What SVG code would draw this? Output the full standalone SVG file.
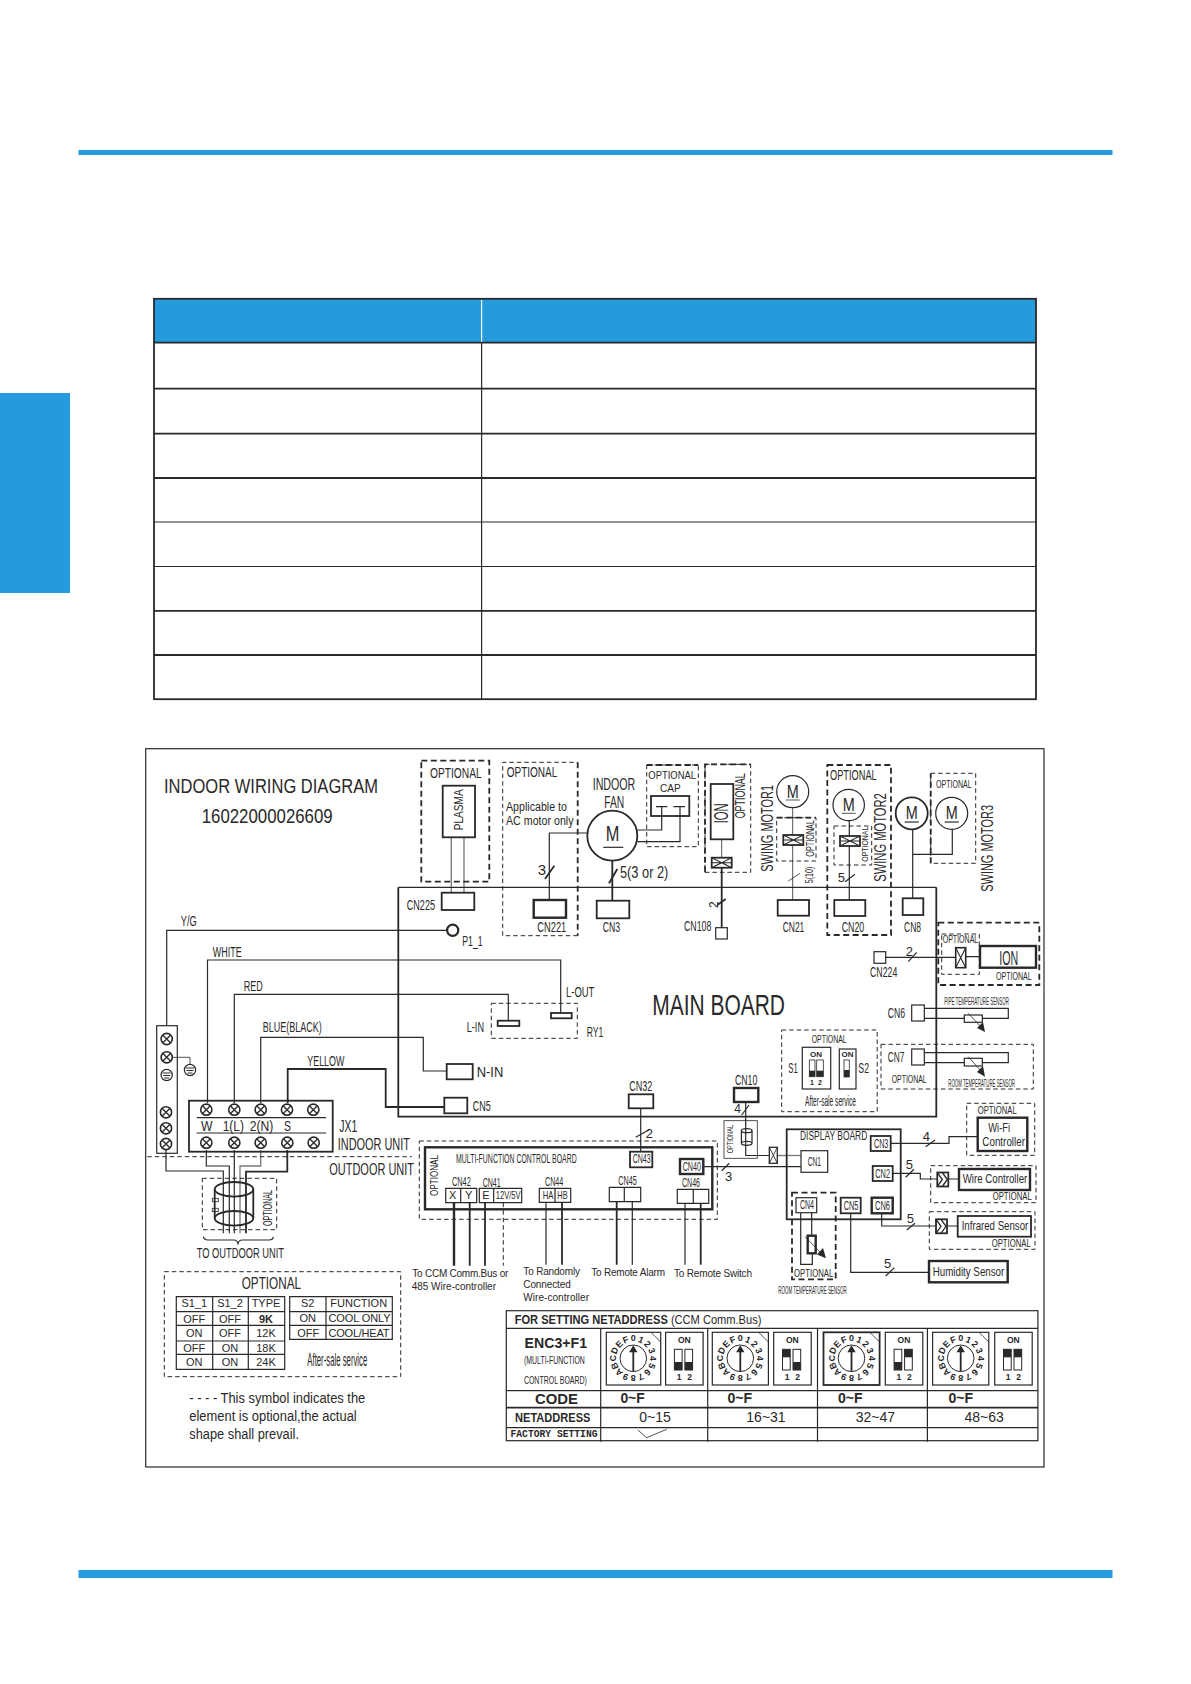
<svg xmlns="http://www.w3.org/2000/svg" width="1191" height="1684" viewBox="0 0 1191 1684">
<style>
text{font-family:"Liberation Sans",Arial,sans-serif;fill:#2a2829}
.s9{font-size:9px}.s10{font-size:10px}.s11{font-size:11px}.s12{font-size:12px}.s13{font-size:13px}.s14{font-size:14px}.s15{font-size:15px}.s16{font-size:16px}.s17{font-size:17px}.s21{font-size:21px}
.b{font-weight:bold}.m{text-anchor:middle}
.n,.w1,.w2,.w3,.d,.dt,.g{fill:none;stroke:#2a2829}
.n{stroke-width:.8}.w1{stroke-width:1.2}.w2{stroke-width:1.8}.w3{stroke-width:2.4}
.g{stroke:#777;stroke-width:1.3}
.d{stroke-width:1.8;stroke-dasharray:6 3.5}.dt{stroke-width:1;stroke-dasharray:4.5 3}
.bl{fill:#259bdd}.k{fill:#2a2829}
</style>
<defs>
<g id="screw"><circle r="5.6" fill="#fff" stroke="#2a2829" stroke-width="1.6"/><path d="M-4-4L4 4M-4 4L4-4" stroke="#2a2829" stroke-width="1.3"/></g>
<g id="earth"><circle r="5.6" fill="#fff" stroke="#2a2829" stroke-width="1.2"/><path d="M-4-2H4M-3.5 0.5H3.5M-2.5 3H2.5" stroke="#2a2829" stroke-width="1"/></g>
<g id="conH"><rect x="0" y="0" width="20" height="10" fill="#fff" stroke="#2a2829" stroke-width="1.8"/><path d="M0 0L10 5L20 0M0 10L10 5L20 10M0 5H20" fill="none" stroke="#2a2829" stroke-width="1.1"/></g>
<g id="conV"><rect x="0" y="0" width="10" height="20" fill="#fff" stroke="#2a2829" stroke-width="1.6"/><path d="M0 0L5 10L0 20M10 0L5 10L10 20" fill="none" stroke="#2a2829" stroke-width="1.1"/></g>
<g id="conD"><rect x="0" y="0" width="11" height="14" fill="#fff" stroke="#2a2829" stroke-width="1.8"/><path d="M0 0L5 7L0 14M5 0L10 7L5 14" fill="none" stroke="#2a2829" stroke-width="1.3"/></g>
<g id="dial">
<circle r="13.3" fill="none" stroke="#2a2829" stroke-width="1"/>
<path d="M-.9 13V-6H-4.2L0-13L4.2-6H.9V13Z" class="k"/>
<g class="b" font-size="9" text-anchor="middle">
<text transform="rotate(0) translate(0,-17)">0</text><text transform="rotate(22.5) translate(0,-17)">1</text><text transform="rotate(45) translate(0,-17)">2</text><text transform="rotate(67.5) translate(0,-17)">3</text><text transform="rotate(90) translate(0,-17)">4</text><text transform="rotate(112.5) translate(0,-17)">5</text><text transform="rotate(135) translate(0,-17)">6</text><text transform="rotate(157.5) translate(0,-17)">7</text><text transform="rotate(180) translate(0,-17)">8</text><text transform="rotate(202.5) translate(0,-17)">9</text><text transform="rotate(225) translate(0,-17)">A</text><text transform="rotate(247.5) translate(0,-17)">B</text><text transform="rotate(270) translate(0,-17)">C</text><text transform="rotate(292.5) translate(0,-17)">D</text><text transform="rotate(315) translate(0,-17)">E</text><text transform="rotate(337.5) translate(0,-17)">F</text>
</g>
</g>
<g id="sw"><rect x="0" y="0" width="37.5" height="52.7" fill="none" stroke="#2a2829" stroke-width="1.2"/>
<text x="18.7" y="11" class="b m" font-size="8.5">ON</text><text x="13.5" y="47.7" class="b m" font-size="8.5">1</text><text x="24" y="47.7" class="b m" font-size="8.5">2</text>
<rect x="8.8" y="17" width="7.7" height="20.7" fill="none" stroke="#2a2829" stroke-width="1"/><rect x="19.3" y="17" width="7.7" height="20.7" fill="none" stroke="#2a2829" stroke-width="1"/></g>
</defs>

<g id="page">
<rect x="78.5" y="150" width="1034" height="5" class="bl"/>
<rect x="78.5" y="1570" width="1034" height="8" class="bl"/>
<rect x="0" y="393" width="70" height="200" class="bl"/>
</g>
<g id="top-table">
<rect x="154" y="299" width="882" height="44" class="bl"/>
<path d="M481.6 300V342" stroke="#fff" stroke-width="1.2"/>
<path d="M154 342.7H1036M154 388.6H1036M154 433.7H1036M154 478H1036M154 655H1036M154 610.8H1036" class="w2"/>
<path d="M154 522H1036M154 566.5H1036M481.6 343V699" class="w1"/>
<rect x="154" y="298.8" width="882" height="400.4" class="w2"/>
</g>

<g id="frame"><rect x="145.7" y="748.7" width="898.3" height="718.3" class="w1"/></g>

<g id="connectors">
<path d="M446 930.3H166.7V1025.7" class="w1"/>
<path d="M207.5 1103V960H560.7V1013" class="w1"/>
<path d="M234.3 1103V994.3H508.3V1020.7" class="w1"/>
<path d="M260.7 1103V1037.3H423.3V1071H446.7" class="w1"/>
<path d="M287.7 1103V1069H385.7V1107H444.3" class="w2"/>
<path d="M171.7 1057.3H190V1064" class="n"/>
<path d="M166 1150V1171H223.3V1233.3" class="w1"/>
<path d="M206.3 1150V1166H229.3V1233.3" class="w1"/>
<path d="M234.3 1150V1233.3" class="w1"/>
<path d="M260.7 1150V1166H240V1233.3" class="g"/>
<path d="M287.3 1150V1171.7H246V1233.3" class="w2"/>
<path d="M451.3 837.3V892.7" class="g"/><path d="M464 837.3V892.7" class="g"/>
<path d="M588.3 833H549.3V900" class="w1"/><path d="M545 879L554.3 865.7" class="w2"/>
<path d="M612.3 860.7V900.7" class="w2"/><path d="M609 883.3L617.3 869" class="w2"/>
<path d="M637.3 830H661.7V806.7M656 806.7H667.3M637.3 841.7H680V806.7M673.3 806.7H685" class="w1"/>
<path d="M721.7 839.3V857.7" class="n"/><path d="M721.7 867.7V927.7" class="w2"/><path d="M717.3 905L725.7 899" class="w2"/>
<path d="M792.7 807.7V900" class="n"/><path d="M788.3 881L800 873.3" class="n"/>
<path d="M849.3 820.7V900" class="w1"/><path d="M845 881.7L855 874.3" class="w1"/>
<path d="M912.7 829.3V898.3M912.7 854.3H952.3V829.3" class="w1"/>
<path d="M885.7 957.3H955.7M965.7 956.7H980" class="w1"/><path d="M908.3 961.7L916.7 952.3" class="w1"/>
<path d="M640.7 1108.3V1151.7" class="w1"/><path d="M635.7 1137.3L650 1129.3" class="w1"/>
<path d="M745.7 1102V1155.5H769.3" class="w1"/><path d="M741.7 1115L749 1105" class="w1"/>
<path d="M777.3 1155.5H801" class="g"/>
<path d="M703.3 1166.7H801" class="w1"/><path d="M721.7 1170.7L729.3 1163.3" class="w1"/>
<path d="M454 1202.7V1265.7" class="w3"/><path d="M469.7 1202.7V1265.7" class="w2"/><path d="M485 1202.7V1265.7" class="w2"/><path d="M503.3 1202.7V1265.7" class="dt"/>
<path d="M546 1202.3V1264.7" class="w1"/><path d="M562 1202.3V1264.7" class="w2"/>
<path d="M616.7 1201.7V1264.7" class="w2"/><path d="M632.3 1201.7V1264.7" class="w1"/>
<path d="M685 1203.3V1264.7" class="w1"/><path d="M700.7 1203.3V1264.7" class="w2"/>
<path d="M890.7 1143.3H949V1136.7H977.7" class="w1"/><path d="M925.7 1146.7L935 1140" class="w1"/>
<path d="M892.7 1173.3H920.3V1179H937.3M948.3 1179H959" class="w1"/><path d="M905.7 1177.3L914 1169.3" class="w1"/>
<path d="M881.7 1213.3V1226H936M947.3 1226H957.7" class="w1"/><path d="M906.7 1230L915 1223.3" class="w1"/>
<path d="M850.7 1213.3V1272.3H929" class="w1"/><path d="M885.7 1276L894.3 1267.7" class="w1"/>
</g>

<g id="title"><text x="164" y="793.3" class="s21" textLength="214" lengthAdjust="spacingAndGlyphs">INDOOR WIRING DIAGRAM</text>
<text x="201.7" y="823.3" class="s21" textLength="131" lengthAdjust="spacingAndGlyphs">16022000026609</text></g>

<g id="plasma">
<rect x="421.3" y="760.7" width="68" height="121" class="d"/>
<text x="430" y="777.7" class="s14" textLength="51.7" lengthAdjust="spacingAndGlyphs">OPTIONAL</text>
<rect x="442.7" y="785.7" width="32.3" height="51.6" class="w2"/>
<text transform="translate(463.3,830.3) rotate(-90)" class="s13" textLength="41" lengthAdjust="spacingAndGlyphs">PLASMA</text>
<rect x="441.7" y="892.7" width="32.6" height="17.3" class="w2"/>
<text x="406.7" y="910" class="s15" textLength="28.3" lengthAdjust="spacingAndGlyphs">CN225</text>
</g>

<g id="main-board">
<path d="M398.3 887.3H936.3" class="w1"/><path d="M398.3 887.3V1116.7H936.3V887.3" class="w2"/>
<text x="652.3" y="1015" font-size="30" textLength="132.7" lengthAdjust="spacingAndGlyphs">MAIN BOARD</text>
</g>
<g id="earth-p1"><circle cx="452.7" cy="930.3" r="5.6" fill="#fff" stroke="#2a2829" stroke-width="2.2"/>
<text x="462.3" y="946" class="s14" textLength="20.4" lengthAdjust="spacingAndGlyphs">P1_1</text>
<text x="180.7" y="926" class="s14" textLength="16" lengthAdjust="spacingAndGlyphs">Y/G</text>
<text x="212.7" y="957.3" class="s14" textLength="29" lengthAdjust="spacingAndGlyphs">WHITE</text>
<text x="243.7" y="990.7" class="s14" textLength="19" lengthAdjust="spacingAndGlyphs">RED</text>
<text x="262.7" y="1032.3" class="s14" textLength="59" lengthAdjust="spacingAndGlyphs">BLUE(BLACK)</text>
<text x="307.3" y="1066" class="s14" textLength="37" lengthAdjust="spacingAndGlyphs">YELLOW</text></g>

<g id="relay-ry1">
<rect x="491.3" y="1003.3" width="86" height="35" class="dt"/>
<rect x="497.7" y="1020.7" width="21.6" height="5.3" class="w2"/>
<rect x="551" y="1013" width="20.7" height="5.3" class="w2"/>
<text x="466.7" y="1031.7" class="s15" textLength="17.3" lengthAdjust="spacingAndGlyphs">L-IN</text>
<text x="566" y="996.7" class="s15" textLength="28.3" lengthAdjust="spacingAndGlyphs">L-OUT</text>
<text x="586.7" y="1036.7" class="s15" textLength="16.6" lengthAdjust="spacingAndGlyphs">RY1</text>
</g>
<g id="n-in"><rect x="446.7" y="1064" width="26" height="15.3" class="w2"/><text x="476.7" y="1077.3" class="s15" textLength="26.6" lengthAdjust="spacingAndGlyphs">N-IN</text></g>
<g id="cn5"><rect x="444.3" y="1097.7" width="23" height="15.6" class="w2"/><text x="472.7" y="1111" class="s15" textLength="18" lengthAdjust="spacingAndGlyphs">CN5</text></g>

<g id="terminal-strip">
<rect x="156.7" y="1025.7" width="20.6" height="127.6" class="w1"/>
<use href="#screw" x="166.7" y="1039"/><use href="#screw" x="166.7" y="1057.3"/><use href="#earth" x="166.7" y="1075"/>
<use href="#screw" x="166" y="1112.3"/><use href="#screw" x="166" y="1128.3"/><use href="#screw" x="166" y="1144"/>
<use href="#earth" x="190" y="1070"/>
</g>
<g id="jx1">
<rect x="189" y="1100.7" width="143.7" height="51" class="w2"/>
<use href="#screw" x="206.3" y="1109.7"/><use href="#screw" x="234.3" y="1109.7"/><use href="#screw" x="260.7" y="1109.7"/><use href="#screw" x="287" y="1109.7"/><use href="#screw" x="313.3" y="1109.7"/>
<use href="#screw" x="206.3" y="1142.7"/><use href="#screw" x="234.3" y="1142.7"/><use href="#screw" x="260.7" y="1142.7"/><use href="#screw" x="287.3" y="1142.7"/><use href="#screw" x="313.7" y="1142.7"/>
<path d="M196.7 1117.7H326M196.7 1133H326" class="w1"/>
<text x="201" y="1131" class="s14" textLength="11.5" lengthAdjust="spacingAndGlyphs">W</text>
<text x="222.7" y="1131" class="s14" textLength="21.3" lengthAdjust="spacingAndGlyphs">1(L)</text>
<text x="249.7" y="1131" class="s14" textLength="23.6" lengthAdjust="spacingAndGlyphs">2(N)</text>
<text x="284" y="1131" class="s14" textLength="7" lengthAdjust="spacingAndGlyphs">S</text>
<text x="339.3" y="1132" class="s16" textLength="18" lengthAdjust="spacingAndGlyphs">JX1</text>
<text x="337.7" y="1150" class="s17" textLength="72.3" lengthAdjust="spacingAndGlyphs">INDOOR UNIT</text>
<text x="329.3" y="1175" class="s17" textLength="84.7" lengthAdjust="spacingAndGlyphs">OUTDOOR UNIT</text>
<path d="M147.3 1156.7H411.7" class="dt"/>
</g>
<g id="ferrite">
<rect x="202.3" y="1178.3" width="74.4" height="51.4" class="dt"/>
<path d="M214.7 1189.3V1218.3M253.3 1189.3V1218.3" class="w2"/>
<ellipse cx="234" cy="1189.3" rx="19.3" ry="7.3" class="w2"/><ellipse cx="234" cy="1218.3" rx="19.3" ry="7.3" class="w2"/>
<rect x="212.3" y="1198.3" width="6" height="3.4" class="n"/><rect x="212.3" y="1208.3" width="6" height="3.4" class="n"/>
<text transform="translate(272,1226) rotate(-90)" class="s12" textLength="36" lengthAdjust="spacingAndGlyphs">OPTIONAL</text>
<path d="M203.3 1236.7Q204 1240 208 1240H234Q237 1240 238 1243.5Q239 1240 242 1240H269Q273 1240 273.3 1236.7" class="w1"/>
<text x="196.7" y="1258.3" class="s14" textLength="87.3" lengthAdjust="spacingAndGlyphs">TO OUTDOOR UNIT</text>
</g>

<g id="option-table">
<rect x="164.3" y="1271.7" width="236.4" height="105" class="dt" stroke-width="1.2"/>
<text x="241.7" y="1289.3" class="s17" textLength="59.3" lengthAdjust="spacingAndGlyphs">OPTIONAL</text>
<path d="M176.3 1296.7H284.7V1369.3H176.3ZM212.7 1296.7V1369.3M248.3 1296.7V1369.3M176.3 1311.7H284.7M176.3 1325.3H284.7M176.3 1341H284.7M176.3 1354.3H284.7" class="w1"/>
<path d="M289.7 1296.7H392.3V1339.3H289.7ZM326 1296.7V1339.3M289.7 1311.7H392.3M289.7 1325.3H392.3" class="w1"/>
<g class="s11 m">
<text x="194.3" y="1307.3">S1_1</text><text x="230" y="1307.3">S1_2</text><text x="266" y="1307.3">TYPE</text>
<text x="194.3" y="1322.7">OFF</text><text x="230" y="1322.7">OFF</text><text x="266" y="1322.7" class="b">9K</text>
<text x="194.3" y="1337.3">ON</text><text x="230" y="1337.3">OFF</text><text x="266" y="1337.3">12K</text>
<text x="194.3" y="1351.7">OFF</text><text x="230" y="1351.7">ON</text><text x="266" y="1351.7">18K</text>
<text x="194.3" y="1365.7">ON</text><text x="230" y="1365.7">ON</text><text x="266" y="1365.7">24K</text>
<text x="307.7" y="1307.3">S2</text><text x="358.7" y="1307.3">FUNCTION</text>
<text x="307.7" y="1322">ON</text><text x="359.5" y="1322" textLength="62">COOL ONLY</text>
<text x="308.3" y="1336.7">OFF</text><text x="359" y="1336.7" textLength="61">COOL/HEAT</text>
</g>
<text x="307.3" y="1366" font-size="18" textLength="60" lengthAdjust="spacingAndGlyphs">After-sale service</text>
</g>
<g id="legend">
<text x="189.3" y="1403.3" class="s14" textLength="176" lengthAdjust="spacingAndGlyphs">- - - - This symbol indicates the</text>
<text x="189.3" y="1421.3" class="s14" textLength="167.4" lengthAdjust="spacingAndGlyphs">element is optional,the actual</text>
<text x="189.3" y="1438.7" class="s14" textLength="109.7" lengthAdjust="spacingAndGlyphs">shape shall prevail.</text>
</g>

<g id="indoor-fan">
<path d="M577.7 935.7H502.7V762.3H577.7" class="dt"/><path d="M577.7 762.3V935.7" class="d"/>
<text x="506.7" y="776.7" class="s14" textLength="50.6" lengthAdjust="spacingAndGlyphs">OPTIONAL</text>
<text x="506" y="810.7" class="s12" textLength="61" lengthAdjust="spacingAndGlyphs">Applicable to</text>
<text x="506" y="825.3" class="s12" textLength="67.5" lengthAdjust="spacingAndGlyphs">AC motor only</text>
<text x="537.7" y="875" class="s15">3</text>
<rect x="533.7" y="900" width="32.3" height="17.7" class="w3"/>
<text x="537.3" y="932.3" class="s15" textLength="29" lengthAdjust="spacingAndGlyphs">CN221</text>
<text x="592.7" y="790" class="s16" textLength="42.6" lengthAdjust="spacingAndGlyphs">INDOOR</text>
<text x="604.3" y="807.7" class="s16" textLength="20" lengthAdjust="spacingAndGlyphs">FAN</text>
<circle cx="612.3" cy="835.7" r="25" class="w2"/>
<text x="605.7" y="841" font-size="22" textLength="13.6" lengthAdjust="spacingAndGlyphs">M</text><path d="M603.3 847.3H623.3" class="w1"/>
<text x="620" y="878.3" class="s16" textLength="48.3" lengthAdjust="spacingAndGlyphs">5(3 or 2)</text>
<rect x="596.7" y="900.7" width="32.6" height="17.6" class="w2"/>
<text x="602.7" y="931.7" class="s15" textLength="17.3" lengthAdjust="spacingAndGlyphs">CN3</text>
</g>
<g id="cap">
<rect x="646.7" y="765" width="51.6" height="81.7" class="dt"/>
<path d="M646.7 765H698.3" class="d"/>
<text x="648.3" y="779" class="s11" textLength="47.7" lengthAdjust="spacingAndGlyphs">OPTIONAL</text>
<text x="660" y="791.5" class="s11" textLength="20.7" lengthAdjust="spacingAndGlyphs">CAP</text>
<rect x="651" y="796" width="38.3" height="20" class="w2"/>
</g>
<g id="ion-a">
<rect x="705" y="764.3" width="45.7" height="108" class="dt"/><path d="M705 872.3V764.3H750.7" class="d"/>
<rect x="710.7" y="784" width="22.6" height="55.3" class="w2"/>
<text transform="translate(728.3,823.3) rotate(-90)" font-size="20" textLength="20" lengthAdjust="spacingAndGlyphs">ION</text>
<text transform="translate(745,818.3) rotate(-90)" class="s14" textLength="45" lengthAdjust="spacingAndGlyphs">OPTIONAL</text>
<use href="#conH" x="711.7" y="857.7"/>
<text transform="translate(718,908) rotate(-90)" class="s12">2</text>
<rect x="715.7" y="927.7" width="11.6" height="11.3" class="w1"/>
<text x="684" y="931" class="s15" textLength="27.3" lengthAdjust="spacingAndGlyphs">CN108</text>
</g>
<g id="swing-motor1">
<circle cx="792.7" cy="791.7" r="16" class="w1"/>
<text x="786.7" y="797.7" font-size="18" textLength="12" lengthAdjust="spacingAndGlyphs">M</text><path d="M785.7 800H799.7" class="n"/>
<text transform="translate(772.7,871.7) rotate(-90)" class="s17" textLength="86.7" lengthAdjust="spacingAndGlyphs">SWING MOTOR1</text>
<rect x="776.7" y="817.7" width="39.3" height="43.3" class="dt"/><path d="M776.7 817.7H816" class="d"/>
<text transform="translate(814,856.7) rotate(-90)" class="s11" textLength="36.7" lengthAdjust="spacingAndGlyphs">OPTIONAL</text>
<use href="#conH" x="783.3" y="835"/>
<text transform="translate(812.7,883.3) rotate(-90)" class="s11" textLength="16.6" lengthAdjust="spacingAndGlyphs">5(10)</text>
<rect x="777.7" y="900" width="31.3" height="15.7" class="w2"/>
<text x="782.7" y="931.7" class="s15" textLength="21.6" lengthAdjust="spacingAndGlyphs">CN21</text>
</g>
<g id="swing-motor2">
<rect x="827.3" y="765" width="63.7" height="170" class="d"/>
<text x="830" y="780" class="s14" textLength="46.7" lengthAdjust="spacingAndGlyphs">OPTIONAL</text>
<circle cx="848.7" cy="805" r="15.7" class="w1"/>
<text x="842.7" y="811" font-size="18" textLength="12" lengthAdjust="spacingAndGlyphs">M</text><path d="M841.7 813.3H855.7" class="n"/>
<rect x="834" y="826" width="37.7" height="39" class="dt"/>
<use href="#conH" x="840" y="836"/>
<text transform="translate(868,861.7) rotate(-90)" class="s9" textLength="35" lengthAdjust="spacingAndGlyphs">OPTIONAL</text>
<text transform="translate(886,881.7) rotate(-90)" class="s17" textLength="88.4" lengthAdjust="spacingAndGlyphs">SWING MOTOR2</text>
<text x="837.7" y="881.7" class="s13">5</text>
<rect x="834.3" y="900" width="31" height="16" class="w2"/>
<text x="841.7" y="932.3" class="s15" textLength="22.6" lengthAdjust="spacingAndGlyphs">CN20</text>
</g>
<g id="swing-motor3">
<circle cx="911.7" cy="813.3" r="16" class="w2"/>
<text x="905.7" y="819.3" font-size="18" textLength="12" lengthAdjust="spacingAndGlyphs">M</text><path d="M904.7 822H918.7" class="w1"/>
<rect x="930.7" y="773.3" width="45" height="90" class="dt"/><path d="M930.7 863.3V773.3" class="d"/>
<text x="936" y="788.3" class="s10" textLength="35.7" lengthAdjust="spacingAndGlyphs">OPTIONAL</text>
<circle cx="951.7" cy="813.3" r="16" class="w1"/>
<text x="945.7" y="819.3" font-size="18" textLength="12" lengthAdjust="spacingAndGlyphs">M</text><path d="M944.7 822H958.7" class="w1"/>
<rect x="902.7" y="898.3" width="20.6" height="16.7" class="w2"/>
<text x="904" y="931.7" class="s15" textLength="17" lengthAdjust="spacingAndGlyphs">CN8</text>
<text transform="translate(992.7,891.7) rotate(-90)" class="s17" textLength="86.7" lengthAdjust="spacingAndGlyphs">SWING MOTOR3</text>
</g>
<g id="ion-b">
<rect x="874" y="951.7" width="11.7" height="11.6" class="w1"/>
<text x="870" y="976.7" class="s15" textLength="27.3" lengthAdjust="spacingAndGlyphs">CN224</text>
<text x="905.7" y="955.7" class="s13">2</text>
<rect x="938.3" y="922.7" width="101" height="62.3" class="d"/>
<rect x="941.7" y="934" width="37.6" height="40.3" class="dt"/>
<text x="942.7" y="943.3" class="s10" textLength="35.6" lengthAdjust="spacingAndGlyphs">OPTIONAL</text>
<use href="#conV" x="955.7" y="947.7"/>
<rect x="980" y="946" width="56" height="21.7" class="w3"/>
<text x="999.3" y="965" class="s21" textLength="19" lengthAdjust="spacingAndGlyphs">ION</text>
<text x="996" y="979.7" class="s10" textLength="35.7" lengthAdjust="spacingAndGlyphs">OPTIONAL</text>
</g>
<g id="cn6-pipe-sensor">
<rect x="911.7" y="1005" width="12.6" height="16" class="w1"/>
<text x="887.7" y="1018.3" class="s15" textLength="17.3" lengthAdjust="spacingAndGlyphs">CN6</text>
<path d="M924.3 1008.3H1008.3V1018.3H924.3" class="w1"/>
<rect x="964.3" y="1015" width="18" height="7.3" class="w1" style="fill:#fff"/>
<path d="M968.3 1013.3L981 1027" class="n"/><path d="M977 1028L983 1022L985 1032Z" class="k"/>
<text x="944.3" y="1004.5" class="s10" textLength="64.7" lengthAdjust="spacingAndGlyphs">PIPE TEMPERATURE SENSOR</text>
</g>
<g id="cn7-room-sensor">
<rect x="881" y="1044.3" width="152.3" height="44.7" class="dt"/>
<text x="887.7" y="1061.7" class="s15" textLength="16.6" lengthAdjust="spacingAndGlyphs">CN7</text>
<rect x="911.7" y="1049" width="12.6" height="16" class="w1"/>
<path d="M924.3 1052.7H1008.3V1062.7H924.3" class="w1"/>
<rect x="964.3" y="1058.3" width="18" height="7.7" class="w1" style="fill:#fff"/>
<path d="M968.3 1056.7L981 1071" class="n"/><path d="M977 1072L983 1066L985 1076.7Z" class="k"/>
<text x="891.7" y="1083.3" class="s10" textLength="35" lengthAdjust="spacingAndGlyphs">OPTIONAL</text>
<text x="948.3" y="1087.3" class="s10" textLength="66.7" lengthAdjust="spacingAndGlyphs">ROOM TEMPERATURE SENSOR</text>
</g>
<g id="s1-s2">
<rect x="781.7" y="1030" width="95.5" height="81.7" class="dt"/>
<text x="811.7" y="1042.7" class="s10" textLength="35" lengthAdjust="spacingAndGlyphs">OPTIONAL</text>
<text x="788.3" y="1073.3" class="s14" textLength="9.4" lengthAdjust="spacingAndGlyphs">S1</text>
<rect x="802.3" y="1047.3" width="28.4" height="41.7" class="w1"/>
<text x="816" y="1057" font-size="8" class="b m">ON</text>
<rect x="809.3" y="1060" width="5.7" height="16.7" class="n"/><rect x="816.7" y="1060" width="6.6" height="16.7" class="n"/>
<rect x="809.3" y="1070.7" width="5.7" height="6" class="k"/><rect x="816.7" y="1070.7" width="6.6" height="6" class="k"/>
<text x="812" y="1085" font-size="7" class="b m">1</text><text x="820" y="1085" font-size="7" class="b m">2</text>
<rect x="839.3" y="1049" width="16.7" height="40" class="w1"/>
<text x="847.6" y="1057.3" font-size="8" class="b m">ON</text>
<rect x="844" y="1060" width="5.3" height="17" class="n"/><rect x="844" y="1070" width="5.3" height="7" class="k"/>
<text x="858.3" y="1073.3" class="s14" textLength="10.7" lengthAdjust="spacingAndGlyphs">S2</text>
<text x="805" y="1105.7" class="s15" textLength="51" lengthAdjust="spacingAndGlyphs">After-sale service</text>
</g>
<g id="cn32"><rect x="628.7" y="1094.3" width="24.6" height="14" class="w2"/>
<text x="629.3" y="1090.7" class="s14" textLength="23" lengthAdjust="spacingAndGlyphs">CN32</text>
<text x="645.7" y="1137.7" class="s13">2</text></g>
<g id="multi-function-board">
<rect x="419.3" y="1141" width="298" height="78.3" class="dt"/>
<rect x="425" y="1147.3" width="287.3" height="62" class="w3"/>
<text transform="translate(438.3,1196) rotate(-90)" class="s11" textLength="41" lengthAdjust="spacingAndGlyphs">OPTIONAL</text>
<text x="456" y="1163.3" class="s12" textLength="120.7" lengthAdjust="spacingAndGlyphs">MULTI-FUNCTION CONTROL BOARD</text>
<rect x="630" y="1151.7" width="22.3" height="15.6" class="w2"/><text x="632.7" y="1163.3" class="s12" textLength="18" lengthAdjust="spacingAndGlyphs">CN43</text>
<rect x="680" y="1159" width="23.3" height="15" class="w3"/><text x="682.7" y="1170.7" class="s12" textLength="18.3" lengthAdjust="spacingAndGlyphs">CN40</text>
<text x="452" y="1185.7" class="s12" textLength="18.7" lengthAdjust="spacingAndGlyphs">CN42</text>
<path d="M445.7 1188.3H476.7V1202.7H445.7ZM460.7 1188.3V1202.7" class="w1"/>
<text x="452.7" y="1199.3" class="s11 m">X</text><text x="468.7" y="1199.3" class="s11 m">Y</text>
<text x="482.7" y="1186.7" class="s12" textLength="18" lengthAdjust="spacingAndGlyphs">CN41</text>
<path d="M479.3 1188.3H521.7V1202.7H479.3ZM493.7 1188.3V1202.7" class="w1"/>
<text x="486" y="1199.3" class="s11 m">E</text><text x="495.7" y="1199.3" class="s10" textLength="25" lengthAdjust="spacingAndGlyphs">12V/5V</text>
<text x="545" y="1185.7" class="s12" textLength="18.3" lengthAdjust="spacingAndGlyphs">CN44</text>
<path d="M539.3 1188.3H570.7V1202.3H539.3ZM555 1188.3V1202.3" class="w1"/>
<text x="542.7" y="1199.3" class="s11" textLength="10.7" lengthAdjust="spacingAndGlyphs">HA</text><text x="557.3" y="1199.3" class="s11" textLength="10.3" lengthAdjust="spacingAndGlyphs">HB</text>
<text x="618.3" y="1185" class="s12" textLength="18.4" lengthAdjust="spacingAndGlyphs">CN45</text>
<path d="M609.3 1187.3H640.7V1201.7H609.3ZM624.3 1187.3V1201.7" class="w1"/>
<text x="682" y="1186.7" class="s12" textLength="18" lengthAdjust="spacingAndGlyphs">CN46</text>
<path d="M677.3 1189.3H708.7V1203.3H677.3ZM693.3 1189.3V1203.3" class="w1"/>
<text x="412.3" y="1276.7" class="s10" textLength="96">To CCM Comm.Bus or</text>
<text x="411.7" y="1290" class="s10" textLength="84.3">485 Wire-controller</text>
<text x="523.3" y="1275" class="s10" textLength="56.7">To Randomly</text>
<text x="523.3" y="1288.3" class="s10" textLength="47.4">Connected</text>
<text x="523.3" y="1301" class="s10" textLength="65.7">Wire-controller</text>
<text x="591.3" y="1275.7" class="s10" textLength="73.7">To Remote Alarm</text>
<text x="674" y="1276.7" class="s10" textLength="78">To Remote Switch</text>
</g>
<g id="cn10">
<rect x="734" y="1088" width="24.3" height="14" class="w3"/>
<text x="735" y="1085" class="s14" textLength="22.3" lengthAdjust="spacingAndGlyphs">CN10</text>
<text x="734.3" y="1113.3" class="s12">4</text>
<rect x="724" y="1120.7" width="33.3" height="37.6" class="n"/>
<text transform="translate(733.3,1153.3) rotate(-90)" class="s9" textLength="28.3" lengthAdjust="spacingAndGlyphs">OPTIONAL</text>
<ellipse cx="746.7" cy="1130.7" rx="5.3" ry="2" class="w1"/><ellipse cx="746.7" cy="1143.3" rx="5.3" ry="2" class="w1"/><path d="M741.4 1130.7V1143.3M752 1130.7V1143.3" class="w1"/>
<use href="#conV" transform="translate(769.3,1147.3) scale(.8,.8)"/>
<text x="725" y="1180.7" class="s13">3</text>
</g>
<g id="display-board">
<rect x="786.7" y="1129.3" width="114" height="90" class="w2"/>
<text x="800" y="1140" class="s12" textLength="67.3" lengthAdjust="spacingAndGlyphs">DISPLAY BOARD</text>
<rect x="801" y="1150.7" width="26.7" height="21.6" class="w1"/><text x="807.7" y="1166" class="s12" textLength="13.3" lengthAdjust="spacingAndGlyphs">CN1</text>
<rect x="870.7" y="1136" width="20" height="15" class="w2"/><text x="874" y="1148" class="s12" textLength="14.3" lengthAdjust="spacingAndGlyphs">CN3</text>
<rect x="872.7" y="1166" width="20" height="15" class="w2"/><text x="875.3" y="1177.7" class="s12" textLength="14.7" lengthAdjust="spacingAndGlyphs">CN2</text>
<rect x="871.7" y="1197.7" width="21" height="15.6" class="w3"/><text x="875" y="1210" class="s12" textLength="15" lengthAdjust="spacingAndGlyphs">CN6</text>
<rect x="840.7" y="1197.7" width="20" height="15.6" class="w2"/><text x="843.7" y="1210" class="s12" textLength="14.6" lengthAdjust="spacingAndGlyphs">CN5</text>
</g>
<g id="display-room-sensor">
<rect x="792" y="1192.7" width="43.7" height="86.6" class="d"/>
<rect x="796" y="1197.7" width="20.7" height="15" class="w1"/><text x="800" y="1209.3" class="s12" textLength="14" lengthAdjust="spacingAndGlyphs">CN4</text>
<path d="M800.7 1212.7V1264.3H812.3V1253.3M811.7 1212.7V1235.7" class="w1"/>
<rect x="807.7" y="1235.7" width="8" height="17.6" class="w3"/>
<path d="M805 1236.7L822 1254" class="n"/><path d="M817 1254.5L823 1248L826 1258.3Z" class="k"/>
<text x="794" y="1276.7" class="s11" textLength="39.3" lengthAdjust="spacingAndGlyphs">OPTIONAL</text>
<text x="778.3" y="1294" class="s10" textLength="68.4" lengthAdjust="spacingAndGlyphs">ROOM TEMPERATURE SENSOR</text>
</g>
<g id="wifi">
<text x="922.7" y="1140.7" class="s13">4</text>
<rect x="966.7" y="1103.3" width="68" height="52" class="dt"/>
<text x="977.7" y="1114.3" class="s11" textLength="39" lengthAdjust="spacingAndGlyphs">OPTIONAL</text>
<rect x="977.7" y="1117.7" width="49.6" height="33.3" class="w3"/>
<text x="988.3" y="1131.7" class="s12" textLength="21.7" lengthAdjust="spacingAndGlyphs">Wi-Fi</text>
<text x="982.3" y="1146" class="s12" textLength="42.7" lengthAdjust="spacingAndGlyphs">Controller</text>
</g>
<g id="wire-controller">
<text x="905.7" y="1169.3" class="s13">5</text>
<rect x="930.7" y="1165.7" width="105.3" height="37" class="dt"/>
<text x="992.7" y="1200" class="s11" textLength="39" lengthAdjust="spacingAndGlyphs">OPTIONAL</text>
<use href="#conD" x="937.3" y="1172.5"/>
<rect x="959" y="1169" width="71" height="21" class="w3"/>
<text x="962.7" y="1183.3" class="s12" textLength="64.6" lengthAdjust="spacingAndGlyphs">Wire Controller</text>
</g>
<g id="infrared-sensor">
<text x="906.7" y="1223.3" class="s13">5</text>
<rect x="929.3" y="1211.7" width="105.7" height="37.6" class="dt"/>
<text x="991.7" y="1246.7" class="s11" textLength="39" lengthAdjust="spacingAndGlyphs">OPTIONAL</text>
<use href="#conD" x="936" y="1219.3"/>
<rect x="957.7" y="1216" width="73.3" height="20.7" class="w2"/>
<text x="961.7" y="1230" class="s12" textLength="66.6" lengthAdjust="spacingAndGlyphs">Infrared Sensor</text>
</g>
<g id="humidity-sensor">
<text x="884" y="1268.3" class="s13">5</text>
<rect x="929" y="1261" width="78.7" height="21.3" class="w3"/>
<text x="932.7" y="1275.7" class="s12" textLength="71.6" lengthAdjust="spacingAndGlyphs">Humidity Sensor</text>
</g>

<g id="netaddress-table">
<rect x="506.3" y="1310.7" width="531.6" height="130" class="w1"/>
<path d="M506.3 1328.3H1037.9M506.3 1390.7H1037.9M506.3 1427.7H1037.9M600.7 1328.3V1441.7M707.7 1328.3V1441.7M817.5 1328.3V1441.7M927.4 1328.3V1441.7" class="w1"/>
<path d="M506.3 1407.7H1037.9" class="w2"/>
<text x="514.7" y="1324" class="s13" textLength="246.7" lengthAdjust="spacingAndGlyphs"><tspan class="b">FOR SETTING NETADDRESS</tspan> (CCM Comm.Bus)</text>
<text x="524.6" y="1347.7" class="s14 b" textLength="62.4" lengthAdjust="spacingAndGlyphs">ENC3+F1</text>
<text x="523.9" y="1364.3" class="s11" textLength="61" lengthAdjust="spacingAndGlyphs">(MULTI-FUNCTION</text>
<text x="523.9" y="1384" class="s11" textLength="63" lengthAdjust="spacingAndGlyphs">CONTROL BOARD)</text>
<text x="535" y="1404" class="s15 b" textLength="43" lengthAdjust="spacingAndGlyphs">CODE</text>
<text x="515" y="1421.7" class="s12 b" textLength="75.5" lengthAdjust="spacingAndGlyphs">NETADDRESS</text>
<text x="510.5" y="1437" font-size="10" font-weight="bold" style="font-family:'Liberation Mono',monospace" textLength="87" lengthAdjust="spacingAndGlyphs">FACTORY SETTING</text>
<text x="620.4" y="1403.3" class="s14 b" textLength="24.2" lengthAdjust="spacingAndGlyphs">0~F</text><text x="727.4" y="1403.3" class="s14 b" textLength="24.6" lengthAdjust="spacingAndGlyphs">0~F</text><text x="837.9" y="1403.3" class="s14 b" textLength="24.6" lengthAdjust="spacingAndGlyphs">0~F</text><text x="948.4" y="1403.3" class="s14 b" textLength="24.6" lengthAdjust="spacingAndGlyphs">0~F</text>
<text x="655" y="1421.7" class="s14 m">0~15</text><text x="766" y="1421.7" class="s14 m">16~31</text><text x="875.4" y="1421.7" class="s14 m">32~47</text><text x="984.2" y="1421.7" class="s14 m">48~63</text>
<path d="M637.9 1430L646.7 1437.7L666.7 1429.3" class="n"/>

<rect x="606.3" y="1332.3" width="54.4" height="52.7" class="w1"/><path d="M650.9 1332.3L660.7 1342" class="n"/><use href="#dial" x="633.3" y="1358.3"/>
<use href="#sw" x="665.6" y="1332.3"/><rect x="674.4" y="1362" width="7.7" height="8" class="k"/><rect x="684.9" y="1362" width="7.7" height="8" class="k"/>

<rect x="712.3" y="1332.3" width="56.1" height="52.7" class="w1"/><path d="M758.6 1332.3L768.4 1342" class="n"/><use href="#dial" x="740.3" y="1358.3"/>
<use href="#sw" x="773.7" y="1332.3"/><rect x="782.5" y="1349.3" width="7.7" height="8" class="k"/><rect x="793" y="1362" width="7.7" height="8" class="k"/>

<rect x="823.5" y="1332.3" width="56.1" height="52.7" class="w2"/><path d="M869.8 1332.3L879.6 1342" class="n"/><use href="#dial" x="851.5" y="1358.3"/>
<use href="#sw" x="885.3" y="1332.3"/><rect x="894.1" y="1362" width="7.7" height="8" class="k"/><rect x="904.6" y="1349.3" width="7.7" height="8" class="k"/>

<rect x="932.6" y="1332.3" width="56.2" height="52.7" class="w1"/><path d="M979 1332.3L988.8 1342" class="n"/><use href="#dial" x="960.7" y="1358.3"/>
<use href="#sw" x="994.7" y="1332.3"/><rect x="1003.5" y="1349.3" width="7.7" height="8" class="k"/><rect x="1014" y="1349.3" width="7.7" height="8" class="k"/>
</g>
</svg>
